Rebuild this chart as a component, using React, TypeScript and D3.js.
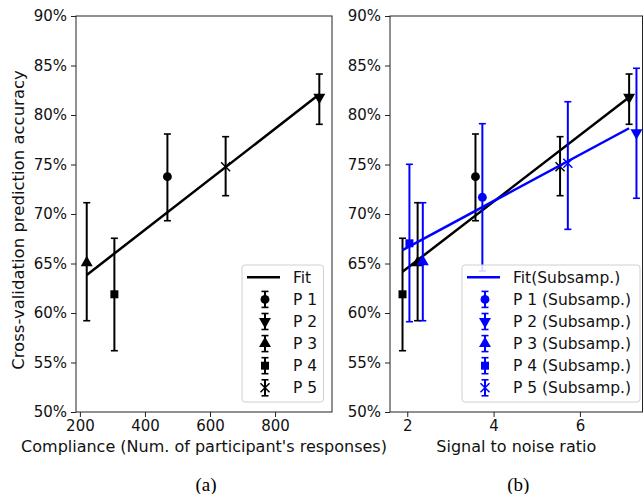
import * as d3 from "d3";
import { useEffect, useRef } from "react";

// participants P1..P5
const labels = ["P 1", "P 2", "P 3", "P 4", "P 5"];
const markers = ["circle", "down", "up", "square", "x"];

// accuracy (%) with error bar ends
const accuracy = [73.77, 81.79, 65.08, 61.89, 74.78];
const accLow = [69.32, 79.06, 59.22, 56.19, 71.85];
const accHigh = [78.08, 84.14, 71.14, 67.55, 77.81];

// x values
const compliance = [469, 936, 221, 306, 648];
const snr = [3.58, 7.14, 2.24, 1.89, 5.54];

// subsampled
const snrSub = [3.74, 7.31, 2.36, 2.05, 5.72];
const accSub = [71.69, 78.21, 65.18, 67.04, 75.12];
const accSubLow = [64.24, 71.59, 59.22, 59.12, 68.45];
const accSubHigh = [79.12, 84.72, 71.14, 75.02, 81.34];

// fit lines (end points)
const fitCompX = [221, 936];
const fitCompY = [63.84, 82.09];
const fitSnrX = [1.89, 7.14];
const fitSnrY = [64.17, 81.79];
const fitSubX = [1.89, 7.14];
const fitSubY = [66.36, 78.66];

const yTicks = [50, 55, 60, 65, 70, 75, 80, 85, 90];
const xTicksA = [200, 400, 600, 800];
const xTicksB = [2, 4, 6];

const FONT = "DejaVu Sans, sans-serif";

function symbolPath(kind: string) {
  if (kind === "circle") return d3.symbol(d3.symbolCircle, 62)();
  if (kind === "square") return d3.symbol(d3.symbolSquare, 64)();
  if (kind === "x") return d3.symbol(d3.symbolTimes, 55)();
  return d3.symbol(d3.symbolTriangle, 62)();
}

function drawMarker(g, kind, x, y, color) {
  const p = g.append("path")
    .attr("d", symbolPath(kind))
    .attr("transform", `translate(${x},${y})${kind === "down" ? " rotate(180)" : ""}`);
  if (kind === "x") {
    p.attr("fill", "none").attr("stroke", color).attr("stroke-width", 1.5);
  } else {
    p.attr("fill", color);
  }
}

function drawErrBar(g, x, y1, y2, color) {
  g.append("line").attr("x1", x).attr("x2", x).attr("y1", y1).attr("y2", y2)
    .attr("stroke", color).attr("stroke-width", 2);
  [y1, y2].forEach(yy => {
    g.append("line").attr("x1", x - 3.5).attr("x2", x + 3.5).attr("y1", yy).attr("y2", yy)
      .attr("stroke", color).attr("stroke-width", 1.6);
  });
}

export default function App() {
  const ref = useRef<SVGSVGElement>(null);

  useEffect(() => {
    const svg = d3.select(ref.current);
    svg.selectAll("*").remove();

    const top = 16, bottom = 412;
    const y = d3.scaleLinear().domain([50, 90]).range([bottom, top]);

    const panel = (left, right, xDomain, xTicks, xLabel, caption, showYLabel) => {
      const x = d3.scaleLinear().domain(xDomain).range([left, right]);
      const g = svg.append("g");

      // axes
      g.append("g").attr("transform", `translate(${left},0)`)
        .call(d3.axisLeft(y).tickValues(yTicks).tickFormat(d => `${d}%`).tickSize(5).tickPadding(4))
        .call(a => a.select(".domain").remove());
      g.append("g").attr("transform", `translate(0,${bottom})`)
        .call(d3.axisBottom(x).tickValues(xTicks).tickFormat(d3.format("d")).tickSize(5).tickPadding(3))
        .call(a => a.select(".domain").remove());
      g.selectAll(".tick text").attr("font-family", FONT).attr("font-size", 15).attr("fill", "#111");
      g.selectAll(".tick line").attr("stroke", "#222");
      g.append("rect").attr("x", left).attr("y", top).attr("width", right - left).attr("height", bottom - top)
        .attr("fill", "none").attr("stroke", "#222").attr("stroke-width", 1);

      g.append("text").attr("x", (left + right) / 2).attr("y", 452)
        .attr("text-anchor", "middle").attr("font-family", FONT).attr("font-size", 16)
        .attr("fill", "#111").text(xLabel);
      g.append("text").attr("x", (left + right) / 2 + 2).attr("y", 491)
        .attr("text-anchor", "middle").attr("font-family", "Liberation Serif, serif").attr("font-size", 19)
        .attr("fill", "#000").text(caption);
      if (showYLabel) {
        g.append("text").attr("transform", `translate(24,220) rotate(-90)`)
          .attr("text-anchor", "middle").attr("font-family", FONT).attr("font-size", 16.5)
          .attr("fill", "#111").text("Cross-validation prediction accuracy");
      }
      return { x, g };
    };

    // panel (a)
    const a = panel(76, 332, [188, 975], xTicksA, "Compliance (Num. of participant's responses)", "(a)", true);
    compliance.forEach((cx, i) => {
      drawErrBar(a.g, a.x(cx), y(accLow[i]), y(accHigh[i]), "#000");
      drawMarker(a.g, markers[i], a.x(cx), y(accuracy[i]), "#000");
    });
    a.g.append("path")
      .attr("d", d3.line()(fitCompX.map((v, i) => [a.x(v), y(fitCompY[i])])))
      .attr("stroke", "#000").attr("stroke-width", 2.5).attr("fill", "none");

    // panel (b)
    const b = panel(390, 642.5, [1.6, 7.45], xTicksB, "Signal to noise ratio", "(b)", false);
    snr.forEach((sx, i) => {
      drawErrBar(b.g, b.x(sx), y(accLow[i]), y(accHigh[i]), "#000");
      drawMarker(b.g, markers[i], b.x(sx), y(accuracy[i]), "#000");
    });
    b.g.append("path")
      .attr("d", d3.line()(fitSnrX.map((v, i) => [b.x(v), y(fitSnrY[i])])))
      .attr("stroke", "#000").attr("stroke-width", 2.5).attr("fill", "none");
    snrSub.forEach((sx, i) => {
      drawErrBar(b.g, b.x(sx), y(accSubLow[i]), y(accSubHigh[i]), "#0000ff");
      drawMarker(b.g, markers[i], b.x(sx), y(accSub[i]), "#0000ff");
    });
    b.g.append("path")
      .attr("d", d3.line()(fitSubX.map((v, i) => [b.x(v), y(fitSubY[i])])))
      .attr("stroke", "#0000ff").attr("stroke-width", 2.5).attr("fill", "none");

    // legends
    const legend = (x0, x1, color, fitLabel, suffix) => {
      const lg = svg.append("g");
      lg.append("rect").attr("x", x0).attr("y", 265).attr("width", x1 - x0).attr("height", 137)
        .attr("rx", 3).attr("fill", "#fff").attr("fill-opacity", 0.85)
        .attr("stroke", "#d0d0d0").attr("stroke-width", 1);
      const rowY = d3.range(6).map(k => 277.3 + k * 22.1);
      const hx = x0 + 5, mx = x0 + 23, tx = x0 + 51;
      lg.append("line").attr("x1", hx).attr("x2", hx + 33).attr("y1", rowY[0]).attr("y2", rowY[0])
        .attr("stroke", color).attr("stroke-width", 2.5);
      const texts = [fitLabel, ...labels.map(l => l + suffix)];
      texts.forEach((t, k) => {
        lg.append("text").attr("x", tx).attr("y", rowY[k]).attr("dy", "0.36em")
          .attr("font-family", FONT).attr("font-size", 15.5).attr("fill", "#111").text(t);
      });
      markers.forEach((m, k) => {
        drawErrBar(lg, mx, rowY[k + 1] - 8, rowY[k + 1] + 8, color);
        drawMarker(lg, m, mx, rowY[k + 1], color);
      });
    };
    legend(242, 323.5, "#000", "Fit", "");
    legend(462, 640, "#0000ff", "Fit(Subsamp.)", " (Subsamp.)");
  }, []);

  return <svg ref={ref} width={644} height={494} style={{ position: "absolute", left: 0, top: 0, background: "#fff" }} />;
}
